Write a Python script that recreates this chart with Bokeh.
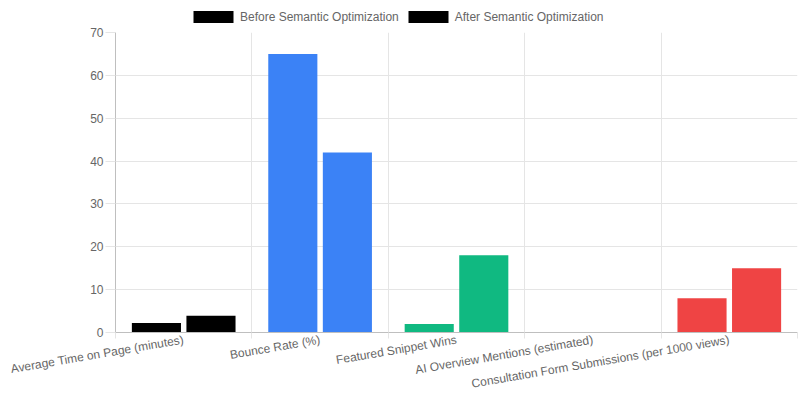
import numpy as np
from bokeh.plotting import figure
from bokeh.layouts import column
from bokeh.models import Range1d, FixedTicker, Legend, LegendItem, ColumnDataSource
from bokeh.embed import file_html
from bokeh.resources import INLINE

categories = [
    "Average Time on Page (minutes)",
    "Bounce Rate (%)",
    "Featured Snippet Wins",
    "AI Overview Mentions (estimated)",
    "Consultation Form Submissions (per 1000 views)",
]
before_values = [2.2, 65, 2, 0, 8]
after_values = [3.9, 42, 18, 0, 15]
bar_colors = ["#000000", "#3b82f6", "#10b981", "#f59e0b", "#ef4444"]
series_names = ["Before Semantic Optimization", "After Semantic Optimization"]
y_ticks = [0, 10, 20, 30, 40, 50, 60, 70]

FONT = "Liberation Sans"
TXT = "#666666"
GRID = "#e5e5e5"
ZERO = "#bfbfbf"

n = len(categories)
centers = np.arange(n) + 0.5
bounds = list(range(n + 1))

source = ColumnDataSource(dict(
    x_before=centers - 0.2,
    x_after=centers + 0.2,
    before=before_values,
    after=after_values,
    color=bar_colors,
))

# ---- main chart ----
p = figure(width=800, height=376, x_range=Range1d(0, n), y_range=Range1d(y_ticks[0], y_ticks[-1]),
           output_backend="svg", toolbar_location=None,
           min_border_left=115, min_border_right=3, min_border_top=8, min_border_bottom=0)
p.outline_line_color = None

p.vbar(x="x_before", top="before", width=0.36, fill_color="color", line_color=None, source=source)
p.vbar(x="x_after", top="after", width=0.36, fill_color="color", line_color=None, source=source)

xa = p.xaxis[0]
xa.ticker = FixedTicker(ticks=list(centers), minor_ticks=bounds)
xa.major_label_overrides = {float(c): cat for c, cat in zip(centers, categories)}
xa.major_tick_line_color = None
xa.major_tick_out = 0
xa.major_tick_in = 0
xa.minor_tick_out = 6
xa.minor_tick_in = 0
xa.minor_tick_line_color = GRID
xa.axis_line_color = ZERO
xa.major_label_orientation = 0.17
xa.major_label_standoff = 1
xa.major_label_text_font = FONT
xa.major_label_text_font_size = "12px"
xa.major_label_text_color = TXT

ya = p.yaxis[0]
ya.ticker = FixedTicker(ticks=y_ticks)
ya.major_tick_out = 10
ya.major_tick_in = 0
ya.major_tick_line_color = GRID
ya.minor_tick_line_color = None
ya.axis_line_color = ZERO
ya.major_label_standoff = 2
ya.major_label_text_font = FONT
ya.major_label_text_font_size = "12px"
ya.major_label_text_color = TXT

p.xgrid.ticker = FixedTicker(ticks=bounds)
p.xgrid.grid_line_color = GRID
p.ygrid.ticker = FixedTicker(ticks=y_ticks)
p.ygrid.grid_line_color = GRID

# ---- legend strip (swatches are zero-height proxies, invisible in the strip) ----
lg = figure(width=800, height=24, x_range=Range1d(0, 1), y_range=Range1d(0, 1),
            output_backend="svg", toolbar_location=None,
            min_border_left=0, min_border_right=0, min_border_top=0, min_border_bottom=0)
lg.axis.visible = False
lg.grid.visible = False
lg.outline_line_color = None
proxy = ColumnDataSource(dict(x=[0.5], top=[0], color=bar_colors[:1]))
k1 = lg.vbar(x="x", top="top", width=0.0, fill_color="color", line_color=None, source=proxy)
k2 = lg.vbar(x="x", top="top", width=0.0, fill_color="color", line_color=None, source=proxy)
legend = Legend(
    items=[LegendItem(label=series_names[0], renderers=[k1], index=0),
           LegendItem(label=series_names[1], renderers=[k2], index=0)],
    location=(73, 0), orientation="horizontal",
    glyph_width=50, glyph_height=15, label_height=15, label_standoff=2, spacing=4,
    padding=0, margin=0, border_line_color=None, background_fill_alpha=0,
    label_text_font=FONT, label_text_font_size="12px", label_text_color=TXT,
)
lg.add_layout(legend, "center")

layout = column(lg, p, spacing=0)
open("out.html", "w").write(file_html(layout, INLINE))
